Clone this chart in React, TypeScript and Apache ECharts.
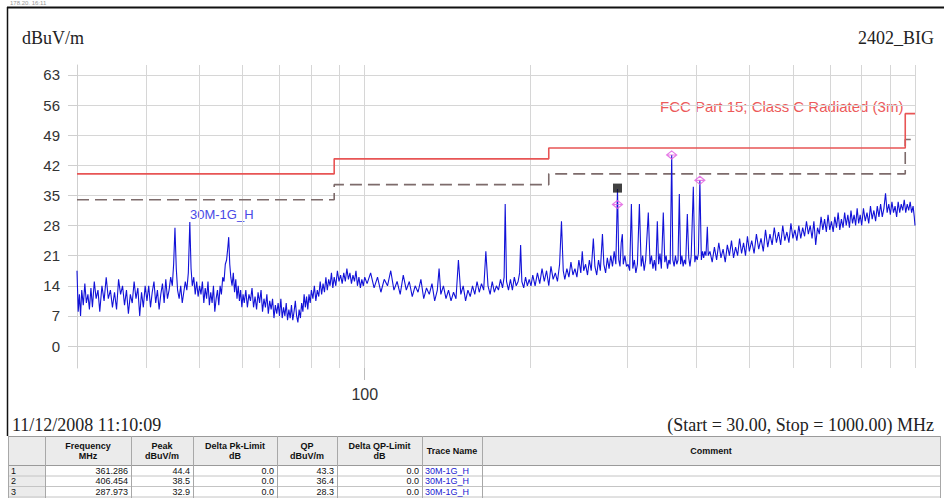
import React, { useEffect, useRef } from 'react';
import * as echarts from 'echarts';

// ---- Trace "30M-1G_H" (frequency MHz, level dBuV/m) ----
const trace30to40: [number, number][] = [
  [30.0, 17.5], [30.15, 8], [30.3, 12], [30.45, 7], [30.6, 13], [30.8, 9.5], [31.0, 14.5], [31.2, 10],
  [31.4, 12], [31.6, 8.5], [31.8, 13.5], [32.0, 9], [32.25, 15], [32.5, 11], [32.75, 13], [33.0, 8],
  [33.3, 14], [33.6, 10.5], [33.9, 16], [34.2, 11], [34.5, 13], [34.8, 9], [35.1, 12.5], [35.4, 8.5],
  [35.7, 15.5], [36.0, 12], [36.3, 14], [36.6, 9.5], [36.9, 13], [37.2, 7.5], [37.5, 12], [37.8, 10],
  [38.1, 15], [38.4, 11], [38.7, 13.5], [39.0, 7], [39.3, 12.5], [39.6, 9], [39.9, 14],
];
const trace40to60: [number, number][] = [
  [40.2, 10.5], [40.5, 14], [40.8, 9], [41.1, 12.5], [41.4, 15], [41.7, 10], [42.0, 13], [42.3, 8.5],
  [42.6, 12], [42.9, 14.5], [43.2, 10], [43.5, 15.5], [43.8, 11], [44.1, 13], [44.4, 16], [44.7, 14],
  [44.95, 19], [45.2, 27.5], [45.45, 18], [45.7, 13], [46.0, 11], [46.3, 14], [46.6, 10], [46.9, 12.5],
  [47.2, 15], [47.5, 13], [47.8, 17], [48.1, 28.8], [48.35, 18], [48.6, 14], [48.9, 16], [49.2, 12],
  [49.5, 15], [49.8, 11.5], [50.1, 14], [50.4, 12], [50.7, 15], [51.0, 10], [51.3, 13.5], [51.6, 11],
  [51.9, 15], [52.2, 9.5], [52.5, 12.5], [52.8, 10], [53.1, 14], [53.4, 8], [53.7, 11], [54.0, 13],
  [54.3, 9.5], [54.6, 14], [54.9, 12], [55.2, 16], [55.5, 15], [55.8, 19], [56.1, 20], [56.4, 23],
  [56.6, 25.3], [56.85, 19], [57.1, 16], [57.4, 14], [57.7, 17], [58.0, 12.5], [58.3, 15.5], [58.6, 11],
  [58.9, 14], [59.2, 10.5], [59.5, 13], [59.8, 9],
];
const trace60to100: [number, number][] = [
  [60.1, 12], [60.4, 10], [60.8, 13], [61.2, 9], [61.6, 12], [62.0, 10.5], [62.4, 13.5], [62.8, 9],
  [63.2, 11.5], [63.6, 8.5], [64.0, 12.5], [64.4, 10], [64.8, 13], [65.2, 8], [65.6, 11], [66.0, 9],
  [66.4, 12], [66.8, 7.5], [67.2, 10.5], [67.6, 8.5], [68.0, 11], [68.4, 6.5], [68.8, 9.5], [69.2, 7.5],
  [69.6, 10], [70.0, 7], [70.4, 11], [70.8, 6.5], [71.2, 9], [71.6, 7], [72.0, 10], [72.4, 6],
  [72.8, 8.5], [73.2, 6.5], [73.6, 9.5], [74.0, 6], [74.4, 8], [74.8, 10.5], [75.2, 7], [75.6, 5.5],
  [76.0, 8.5], [76.4, 6.5], [76.8, 10], [77.2, 8], [77.6, 12], [78.0, 9], [78.4, 11.5], [78.8, 8.5],
  [79.2, 12], [79.6, 10], [80.0, 13], [80.5, 11], [81.0, 14], [81.5, 10.5], [82.0, 13], [82.5, 11.5],
  [83.0, 15], [83.5, 12], [84.0, 14.5], [84.5, 12.5], [85.0, 16], [85.5, 13], [86.0, 15.5], [86.5, 14],
  [87.0, 17], [87.5, 13.5], [88.0, 16], [88.6, 14], [89.2, 17.5], [89.8, 15], [90.4, 16.5], [91.0, 14.5],
  [91.6, 17], [92.2, 15], [92.8, 18], [93.4, 15.5], [94.0, 17], [94.6, 14.5], [95.2, 16.5], [95.8, 15],
  [96.4, 17.5], [97.0, 14], [97.6, 16], [98.2, 13.5], [98.8, 15.5], [99.4, 14], [100.0, 16],
];
const trace100to200: [number, number][] = [
  [101, 14.5], [102.5, 17], [104, 13.5], [105.5, 16], [107, 12.5], [108.5, 15.5], [110, 14], [111.5, 17.5],
  [113, 13], [114.5, 15], [116, 12], [117.5, 16.5], [119, 13], [120.5, 15], [122, 11.5], [123.5, 14],
  [125, 12.5], [126.5, 15.5], [128, 11], [129.5, 13.5], [131, 12], [132.5, 14.5], [134, 10.5], [135.5, 13],
  [136.5, 18], [137.5, 12], [139, 14], [140.5, 11], [142, 13], [143.5, 10.5], [145, 12.5], [146.5, 11],
  [148, 20], [149.5, 12], [151, 14], [152.5, 10.5], [154, 13], [155.5, 11.5], [157, 14], [158.5, 12],
  [160, 15], [161.5, 12.5], [163, 14.5], [164.5, 13], [166, 22], [167.5, 14], [169, 12], [170.5, 15],
  [172, 12.5], [173.5, 14], [175, 13], [176.5, 15.5], [178, 13.5], [179.2, 16], [180, 33], [181, 15],
  [182.5, 13], [184, 15.5], [185.5, 13], [187, 16], [188.5, 14], [190, 15], [191.2, 17], [192, 23.5],
  [193, 15], [194.5, 13.5], [196, 16], [197.5, 14], [199, 15.5],
];
const trace200to300: [number, number][] = [
  [200.5, 14], [202, 16.5], [204, 14], [206, 17], [208, 14.5], [210, 18], [212, 15], [214, 17.5],
  [216, 14], [218, 18.5], [220, 15.5], [222, 17], [224, 15], [226, 19], [227.8, 29], [229.5, 17.5],
  [231, 15.5], [233, 18], [235, 16], [237, 19.5], [239, 16.5], [241, 18], [243, 16], [245, 20],
  [247, 17], [248.5, 22], [250, 17.5], [252, 19], [254, 16.5], [256, 20], [258, 17.5], [260.3, 25],
  [262, 18.5], [264, 16.5], [266, 20], [268, 17.5], [270.4, 26], [272, 19], [274, 17], [276, 20.5],
  [278, 18], [280, 21], [282, 18.5], [284, 22], [286, 19], [287.97, 36.5], [289.5, 20], [291, 18.5],
  [292.5, 24], [293.9, 26], [295, 19], [297, 21], [299, 18.5],
];
const trace300to420: [number, number][] = [
  [301, 19], [303, 17.5], [305.2, 33], [307, 18], [309, 20], [311, 17], [313, 19], [315.6, 33],
  [318, 18.5], [320, 21], [322, 17.5], [324, 20], [327.6, 31], [330, 19], [332, 21], [334, 18],
  [336, 20], [338, 17.5], [340.2, 29], [342, 19], [344, 21.5], [346, 18], [348.8, 31], [351, 19.5],
  [353, 21], [355, 18], [357, 20], [359, 19], [361.3, 44.4], [363, 20], [365, 18.5], [367, 21],
  [369, 19], [371, 20], [373, 35.3], [375, 19], [377, 21], [379, 18.5], [381, 20], [383, 19],
  [385.7, 30.7], [388, 20.5], [390, 18.5], [392, 21], [395.5, 37], [398, 19.5], [400, 21], [402, 20],
  [404, 21.5], [406.5, 38.5], [409, 20], [411, 22], [413, 20.5], [415, 22], [417, 21], [419.4, 27.7],
  [421, 21],
];
const trace420to1000: [number, number][] = [
  [424, 22], [428, 19.5], [432, 23], [436, 20], [440, 24], [444, 20.5], [448, 22.5], [452, 19.5],
  [456, 23.5], [460, 21], [464, 24.5], [468, 20.5], [472, 23], [476, 21], [480, 25], [484, 21.5],
  [488, 24], [492, 21], [496, 25.5], [500, 22], [505, 24.5], [510, 21.5], [515, 26], [520, 22.5],
  [525, 25], [530, 22], [535, 27], [540, 23], [545, 26], [550, 23.5], [555, 27.5], [560, 24],
  [565, 26.5], [570, 23.5], [575, 28], [580, 24.5], [585, 26.5], [590, 24], [595, 28.5], [600, 25],
  [605, 27], [610, 24.5], [615, 28], [620, 25], [625, 27.5], [630, 25.5], [635, 29], [640, 26],
  [645, 28], [650, 25], [655, 29], [660, 23.5], [665, 27.5], [670, 26], [675, 30], [680, 27],
  [685, 29.5], [690, 26.5], [695, 30.5], [700, 27], [705, 29], [710, 26.5], [715, 30], [720, 27.5],
  [725, 31], [730, 27], [735, 29.5], [740, 27.5], [745, 31], [750, 28], [755, 30.5], [760, 27.5],
  [765, 31.5], [770, 28.5], [775, 30.5], [780, 28], [785, 32], [790, 28.5], [795, 30.5], [800, 28],
  [806, 32], [812, 29], [818, 31], [824, 28.5], [830, 32.5], [836, 29.5], [842, 31.5], [848, 29],
  [854, 32.5], [860, 30], [866, 33], [872, 30], [878, 32], [884, 35.5], [890, 31], [896, 33],
  [902, 30.5], [908, 33.5], [914, 31], [920, 32.5], [926, 30], [932, 33.5], [938, 31], [944, 33],
  [950, 31.5], [956, 34], [962, 31], [968, 33], [974, 31.5], [980, 33.5], [986, 31], [992, 32.5],
  [997, 30], [1000, 28],
];

// ---- Limit lines ----
const limitFreq = [30, 88, 88, 216, 216, 960, 960, 1000];
const limitLevel = [40, 40, 43.5, 43.5, 46, 46, 54, 54];
const marginLevel = [34, 34, 37.5, 37.5, 40, 40, 48, 48];

// ---- Markers ----
const markerFreq = [361.286, 406.454, 287.973];
const markerPeak = [44.4, 38.5, 32.9];
const flagFreq = [287.973];
const flagLevel = [36.7];

// ---- Axes ----
const yTicks = [0, 7, 14, 21, 28, 35, 42, 49, 56, 63];
const xGridValues = [30, 40, 50, 60, 70, 80, 90, 100, 200, 300, 400, 500, 600, 700, 800, 900, 1000];
const xLabelValues = [100];

// ---- Table ----
const tableHeaders = ['', 'Frequency\nMHz', 'Peak\ndBuV/m', 'Delta Pk-Limit\ndB', 'QP\ndBuV/m', 'Delta QP-Limit\ndB', 'Trace Name', 'Comment'];
const tableIndex = ['1', '2', '3'];
const tableFreq = ['361.286', '406.454', '287.973'];
const tablePeak = ['44.4', '38.5', '32.9'];
const tableDeltaPk = ['0.0', '0.0', '0.0'];
const tableQP = ['43.3', '36.4', '28.3'];
const tableDeltaQP = ['0.0', '0.0', '0.0'];
const tableTrace = ['30M-1G_H', '30M-1G_H', '30M-1G_H'];

const SERIF = '"Liberation Serif", "Times New Roman", serif';
const SANS = '"Liberation Sans", Arial, sans-serif';
const NARROW = '"Liberation Sans Narrow", "Arial Narrow", "Liberation Sans", sans-serif';

function txt(x: number, y: number, text: string, opts: any = {}) {
  const align = opts.align || 'left';
  const va = opts.va || 'middle';
  return {
    type: 'text',
    x,
    y,
    silent: true,
    style: {
      text,
      fill: opts.fill || '#222',
      fontFamily: opts.family || SANS,
      fontSize: opts.size || 12,
      fontWeight: opts.weight || 'normal',
      align,
      textAlign: align,
      verticalAlign: va,
      textVerticalAlign: va,
      lineHeight: opts.lineHeight,
    },
  };
}

function hline(x1: number, x2: number, y: number, stroke: string, w = 1) {
  return { type: 'line', silent: true, shape: { x1, y1: y, x2, y2: y }, style: { stroke, lineWidth: w } };
}
function vline(x: number, y1: number, y2: number, stroke: string, w = 1) {
  return { type: 'line', silent: true, shape: { x1: x, y1, x2: x, y2 }, style: { stroke, lineWidth: w } };
}

function buildTable() {
  const cols = [8, 45, 131, 193, 277, 337, 422, 482, 940];
  const top = 436;
  const headH = 29;
  const rowH = 10.5;
  const els: any[] = [];
  els.push({ type: 'rect', silent: true, shape: { x: cols[0], y: top, width: cols[cols.length - 1] - cols[0], height: headH }, style: { fill: '#ebebeb' } });
  els.push({ type: 'rect', silent: true, shape: { x: cols[0], y: top + headH, width: cols[1] - cols[0], height: 40 }, style: { fill: '#ebebeb' } });
  tableHeaders.forEach((h, i) => {
    if (!h) return;
    const cx = (cols[i] + cols[i + 1]) / 2;
    els.push(txt(cx, top + headH / 2, h, { align: 'center', family: NARROW, size: 9, weight: 'bold', fill: '#111', lineHeight: 10 }));
  });
  els.push(hline(cols[0], cols[cols.length - 1], top + 0.5, '#9a9a9a'));
  els.push(hline(cols[0], cols[cols.length - 1], top + headH + 0.5, '#9a9a9a'));
  for (let r = 1; r <= 3; r++) {
    els.push(hline(cols[0], cols[cols.length - 1], top + headH + r * rowH + 0.5, '#c4c4c4'));
  }
  cols.forEach((c) => els.push(vline(c + 0.5, top, 498, '#a8a8a8')));
  const columns = [tableIndex, tableFreq, tablePeak, tableDeltaPk, tableQP, tableDeltaQP, tableTrace];
  for (let r = 0; r < tableIndex.length; r++) {
    const cy = top + headH + r * rowH + rowH / 2 + 0.5;
    columns.forEach((col, ci) => {
      const v = col[r];
      if (ci === 0) {
        els.push(txt(cols[0] + 3, cy, v, { family: NARROW, size: 9, fill: '#111' }));
      } else if (ci === 6) {
        els.push(txt(cols[ci] + 3, cy, v, { family: NARROW, size: 9, fill: '#2020d0' }));
      } else {
        els.push(txt(cols[ci + 1] - 3, cy, v, { align: 'right', family: NARROW, size: 9, fill: '#111' }));
      }
    });
  }
  return els;
}

export default function App() {
  const ref = useRef<HTMLDivElement>(null);
  useEffect(() => {
    if (!ref.current) return;
    const chart = echarts.init(ref.current, undefined, { renderer: 'svg' });
    const trace = [
      ...trace30to40, ...trace40to60, ...trace60to100, ...trace100to200,
      ...trace200to300, ...trace300to420, ...trace420to1000,
    ];
    const limit = limitFreq.map((f, i) => [f, limitLevel[i]]);
    const margin = limitFreq.map((f, i) => [f, marginLevel[i]]);
    const markers = markerFreq.map((f, i) => [f, markerPeak[i]]);
    const flags = flagFreq.map((f, i) => [f, flagLevel[i]]);

    const graphic: any[] = [
      hline(7, 944, 7.5, '#111', 2),
      vline(7.5, 7, 436, '#111', 1.5),
      txt(10, 3, '178.20. 16:11', { size: 6, fill: '#999', family: SANS }),
      txt(22, 38, 'dBuV/m', { family: SERIF, size: 18, fill: '#222' }),
      txt(934, 38, '2402_BIG', { family: SERIF, size: 18, fill: '#222', align: 'right' }),
      txt(12, 425, '11/12/2008 11:10:09', { family: SERIF, size: 18, fill: '#222' }),
      txt(934, 425, '(Start = 30.00, Stop = 1000.00) MHz', { family: SERIF, size: 18, fill: '#222', align: 'right' }),
      txt(190, 214, '30M-1G_H', { family: SANS, size: 13, fill: '#4a4ae6' }),
      txt(660, 106, 'FCC Part 15; Class C Radiated (3m)', { family: SANS, size: 15, fill: '#ec5a5a' }),
      ...buildTable(),
    ];

    chart.setOption({
      animation: false,
      backgroundColor: '#fff',
      grid: { left: 77, right: 29, top: 65, bottom: 130 },
      xAxis: [
        {
          type: 'log',
          logBase: 10,
          min: 30,
          max: 1000,
          axisLine: { show: true, lineStyle: { color: '#cfcfcf', width: 1 } },
          axisTick: { show: false, customValues: xGridValues },
          axisLabel: { show: false },
          splitLine: { show: true, lineStyle: { color: '#d6d6d6', width: 1 } },
        },
        {
          type: 'log',
          logBase: 10,
          min: 30,
          max: 1000,
          position: 'bottom',
          axisLine: { show: false },
          axisTick: { show: true, length: 12, customValues: xLabelValues, lineStyle: { color: '#bdbdbd' } },
          axisLabel: { show: true, customValues: xLabelValues, margin: 18, fontSize: 16, color: '#333', fontFamily: SANS, formatter: (v: number) => String(Math.round(v)) },
          splitLine: { show: false },
        },
      ],
      yAxis: {
        type: 'value',
        min: -5.1,
        max: 65.3,
        axisLine: { show: true, lineStyle: { color: '#cfcfcf' } },
        axisTick: { show: true, length: 9, customValues: yTicks, lineStyle: { color: '#cfcfcf' } },
        axisLabel: { customValues: yTicks, margin: 17, fontSize: 15, color: '#333', fontFamily: SANS },
        splitLine: { show: true, lineStyle: { color: '#d6d6d6', width: 1 } },
      },
      graphic,
      series: [
        {
          type: 'line',
          name: 'margin',
          data: margin,
          symbol: 'none',
          lineStyle: { color: '#7d6b6b', width: 1.6, type: [12, 6] },
          z: 3,
        },
        {
          type: 'line',
          name: 'limit',
          data: limit,
          symbol: 'none',
          lineStyle: { color: '#e85555', width: 1.6 },
          z: 3,
        },
        {
          type: 'line',
          name: '30M-1G_H',
          data: trace,
          symbol: 'none',
          lineStyle: { color: '#1212d8', width: 1.1 },
          z: 4,
        },
        {
          type: 'scatter',
          name: 'peaks',
          data: markers,
          symbol: 'path://M0,5 L5,0 L10,5 L5,10 Z M0,5 L10,5',
          symbolSize: [10, 8],
          itemStyle: { color: 'rgba(255,255,255,0)', borderColor: '#e05ae0', borderWidth: 1.2 },
          z: 5,
        },
        {
          type: 'scatter',
          name: 'flag',
          data: flags,
          symbol: 'rect',
          symbolSize: 9,
          itemStyle: { color: '#111' },
          z: 6,
        },
      ],
    });
    return () => chart.dispose();
  }, []);
  return <div ref={ref} style={{ position: 'absolute', left: 0, top: 0, width: 944, height: 498, background: '#fff' }} />;
}
